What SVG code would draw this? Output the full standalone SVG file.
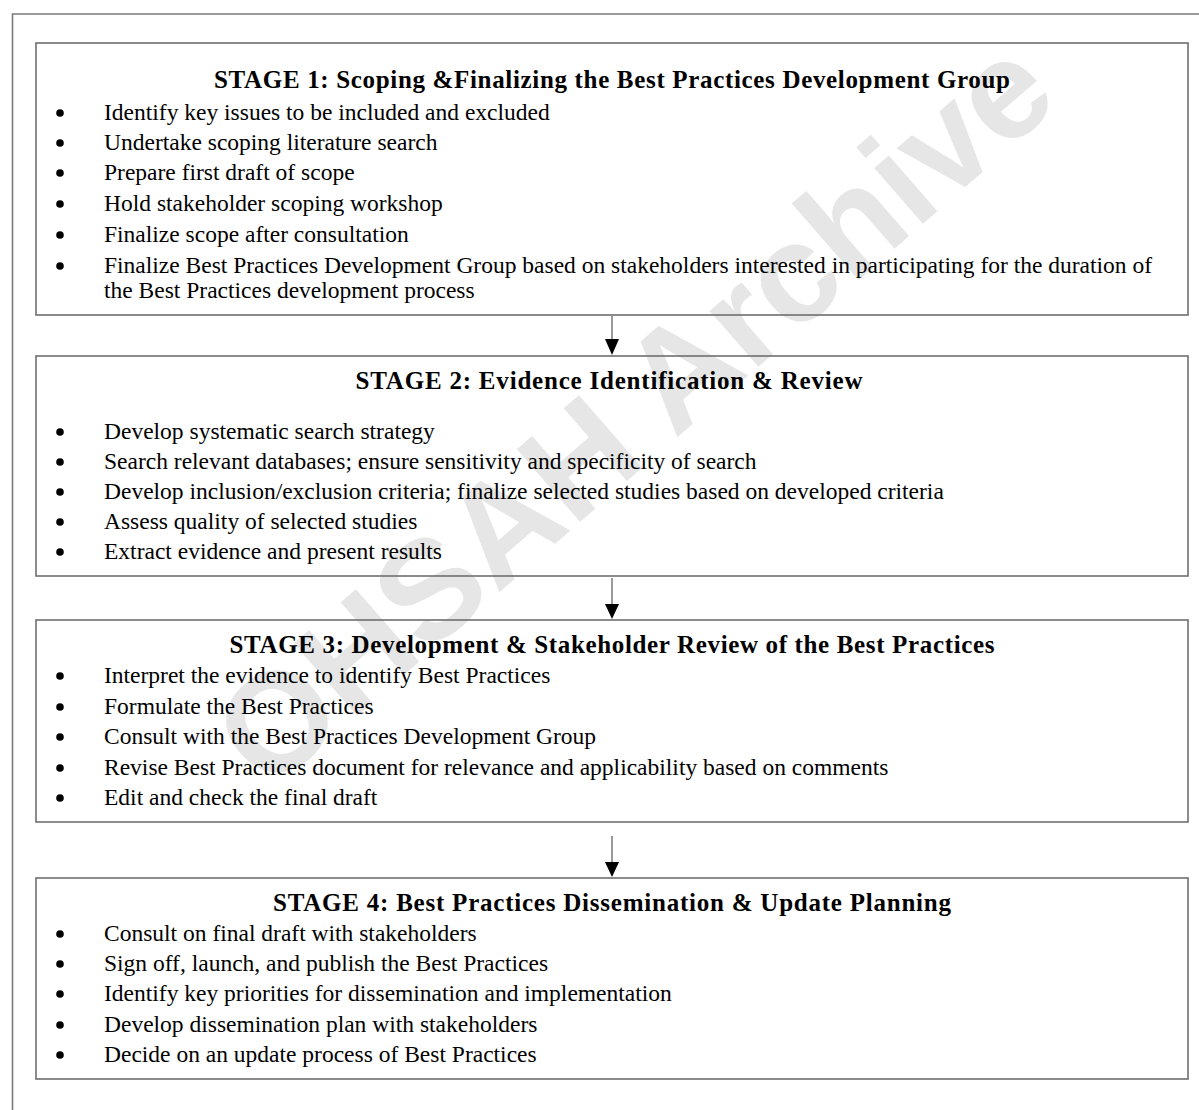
<svg xmlns="http://www.w3.org/2000/svg" width="1199" height="1110" viewBox="0 0 1199 1110">
<defs>
<style>
.frame{fill:none;stroke:#7a7a7a;stroke-width:1.6}
.box{fill:none;stroke:#6f6f6f;stroke-width:1.6}
.title{font-family:"Liberation Serif","Times New Roman",serif;font-weight:bold;font-size:25px;fill:#000;text-anchor:middle}
.item{font-family:"Liberation Serif","Times New Roman",serif;font-size:23.5px;fill:#000}
.wm{font-family:"Liberation Sans",Arial,sans-serif;font-weight:bold;font-size:140px;fill:#e6e6e6;text-anchor:middle}
.conn{stroke:#9a9a9a;stroke-width:2;fill:none}
.head{fill:#000}
</style>
<circle id="b" r="3.8" fill="#000"/>
</defs>
<rect width="1199" height="1110" fill="#fff"/>
<path class="frame" d="M12.5 1110 V14 H1199"/>
<text class="wm" transform="translate(632,410) rotate(-41)" dy="0.36em">OHSAH Archive</text>

<g id="stage1">
<rect class="box" x="36" y="43" width="1152" height="272"/>
<text class="title" x="612" y="88" textLength="796" lengthAdjust="spacing">STAGE 1: Scoping &amp;Finalizing the Best Practices Development Group</text>
<use href="#b" x="60" y="113"/><text class="item" x="104" y="120">Identify key issues to be included and excluded</text>
<use href="#b" x="60" y="143"/><text class="item" x="104" y="150">Undertake scoping literature search</text>
<use href="#b" x="60" y="173"/><text class="item" x="104" y="180">Prepare first draft of scope</text>
<use href="#b" x="60" y="204"/><text class="item" x="104" y="211">Hold stakeholder scoping workshop</text>
<use href="#b" x="60" y="235"/><text class="item" x="104" y="242">Finalize scope after consultation</text>
<use href="#b" x="60" y="266"/><text class="item" x="104" y="273">Finalize Best Practices Development Group based on stakeholders interested in participating for the duration of</text>
<text class="item" x="104" y="298">the Best Practices development process</text>
</g>

<g id="stage2">
<rect class="box" x="36" y="356" width="1152" height="220"/>
<text class="title" x="609" y="389" textLength="507" lengthAdjust="spacing">STAGE 2: Evidence Identification &amp; Review</text>
<use href="#b" x="60" y="432"/><text class="item" x="104" y="439">Develop systematic search strategy</text>
<use href="#b" x="60" y="462"/><text class="item" x="104" y="469">Search relevant databases; ensure sensitivity and specificity of search</text>
<use href="#b" x="60" y="492"/><text class="item" x="104" y="499">Develop inclusion/exclusion criteria; finalize selected studies based on developed criteria</text>
<use href="#b" x="60" y="522"/><text class="item" x="104" y="529">Assess quality of selected studies</text>
<use href="#b" x="60" y="552"/><text class="item" x="104" y="559">Extract evidence and present results</text>
</g>

<g id="stage3">
<rect class="box" x="36" y="620" width="1152" height="202"/>
<text class="title" x="612" y="653" textLength="765" lengthAdjust="spacing">STAGE 3: Development &amp; Stakeholder Review of the Best Practices</text>
<use href="#b" x="60" y="676"/><text class="item" x="104" y="683">Interpret the evidence to identify Best Practices</text>
<use href="#b" x="60" y="707"/><text class="item" x="104" y="714">Formulate the Best Practices</text>
<use href="#b" x="60" y="737"/><text class="item" x="104" y="744">Consult with the Best Practices Development Group</text>
<use href="#b" x="60" y="768"/><text class="item" x="104" y="775">Revise Best Practices document for relevance and applicability based on comments</text>
<use href="#b" x="60" y="798"/><text class="item" x="104" y="805">Edit and check the final draft</text>
</g>

<g id="stage4">
<rect class="box" x="36" y="878" width="1152" height="201"/>
<text class="title" x="612" y="911" textLength="678" lengthAdjust="spacing">STAGE 4: Best Practices Dissemination &amp; Update Planning</text>
<use href="#b" x="60" y="934"/><text class="item" x="104" y="941">Consult on final draft with stakeholders</text>
<use href="#b" x="60" y="964"/><text class="item" x="104" y="971">Sign off, launch, and publish the Best Practices</text>
<use href="#b" x="60" y="994"/><text class="item" x="104" y="1001">Identify key priorities for dissemination and implementation</text>
<use href="#b" x="60" y="1025"/><text class="item" x="104" y="1032">Develop dissemination plan with stakeholders</text>
<use href="#b" x="60" y="1055"/><text class="item" x="104" y="1062">Decide on an update process of Best Practices</text>
</g>

<g id="connectors">
<line class="conn" x1="612" y1="316" x2="612" y2="341"/>
<path class="head" d="M605 339 L619 339 L612 355 Z"/>
<line class="conn" x1="612" y1="578" x2="612" y2="606"/>
<path class="head" d="M605 604 L619 604 L612 619 Z"/>
<line class="conn" x1="612" y1="836" x2="612" y2="864"/>
<path class="head" d="M605 862 L619 862 L612 877 Z"/>
</g>
</svg>
